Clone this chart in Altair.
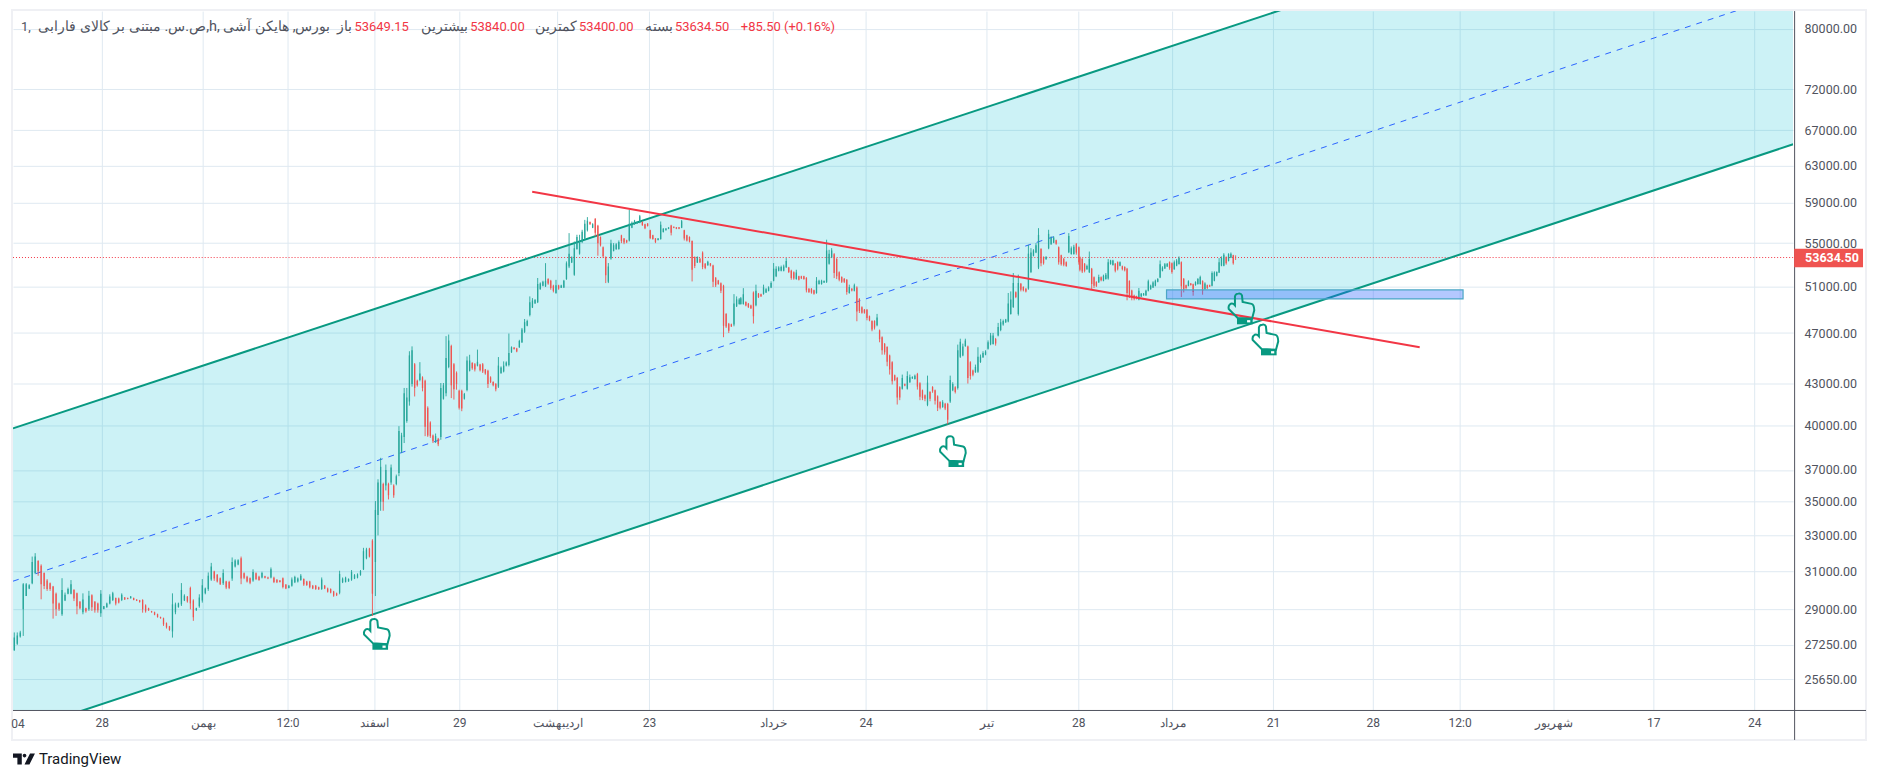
import json
import numpy as np
import pandas as pd
import altair as alt

PRICE_UNIT = 10  # candle lists are written in tens of rials

a_high = [2785,2785,2793,3036,3036,3030,3180,3199,3160,3137,
3093,3057,3039,3021,2986,2934,3062,2986,3012,3052,
3004,2986,2942,2982,2908,2995,2977,2942,2934,2999,
2917,2934,2977,2990,2960,2960,2982,2963,2960,2968,
2960,2951,2948,2951,2925,2908,2892,2888,2878,2863,
2858,2834,2817,2982,2934,2934,3036,2977,2968,3017,
2951,2908,2977,3057,3012,3093,3145,3102,3084,3066,
3110,3048,3048,3175,3165,3165,3180,3093,3075,3066,
3110,3093,3075,3097,3075,3070,3120,3070,3057,3052,
3066,3030,3026,3066,3075,3066,3084,3061,3048,3048,
3026,3026,3017,3066,3026,3012,3008,2995,2986,3102,
3066,3070,3061,3106,3084,3088,3106,3229,3229,3229,
3278,3504]
a_low = [2697,2725,2760,2768,2968,3004,3030,3084,3075,2951,
3004,2995,2995,2853,2867,2892,2867,2942,2977,2977,
2942,2875,2900,2875,2883,2892,2892,2883,2883,2862,
2900,2908,2925,2942,2920,2930,2942,2948,2951,2955,
2946,2942,2934,2883,2883,2892,2883,2870,2858,2853,
2817,2804,2793,2760,2875,2908,2917,2942,2934,2900,
2842,2892,2908,2934,2977,2995,3048,3048,3039,3026,
3026,3004,3004,3048,3120,3132,3030,3057,3039,3030,
3043,3052,3048,3061,3061,3057,3061,3036,3036,3039,
3008,3004,3008,3017,3036,3039,3048,3021,3021,3008,
3004,3000,3000,3000,3004,2986,2982,2964,2968,2977,
3036,3039,3043,3048,3057,3061,3075,3106,3165,3175,
2867,2968]
a_open = [2700,2730,2765,2900,2968,3008,3035,3090,3155,3130,
3090,3050,3035,3018,2980,2930,2875,2945,2980,2980,
3000,2982,2938,2885,2905,2900,2972,2938,2930,2880,
2902,2910,2930,2948,2958,2955,2948,2960,2958,2957,
2958,2950,2946,2948,2920,2905,2890,2885,2875,2861,
2855,2830,2815,2790,2885,2912,2925,2945,2965,3010,
2945,2895,2915,2945,2982,3005,3055,3098,3080,3062,
3035,3045,3042,3060,3125,3136,3170,3088,3070,3062,
3050,3088,3070,3066,3072,3066,3066,3065,3054,3050,
3062,3028,3010,3022,3040,3045,3052,3058,3045,3044,
3022,3022,3014,3005,3022,3008,3005,2992,2982,2985,
3040,3042,3045,3054,3060,3065,3080,3110,3170,3225,
3270,3150]
a_close = [2760,2770,2785,3030,3030,3025,3150,3180,3100,3030,
3020,3005,3005,2930,2900,2900,3000,2975,3005,3030,
2955,2915,2905,2950,2890,2970,2910,2895,2895,2980,
2915,2930,2965,2982,2930,2935,2975,2950,2953,2965,
2948,2944,2937,2900,2890,2895,2885,2873,2861,2855,
2825,2810,2797,2925,2925,2930,3000,2970,2940,2930,
2860,2905,2960,3025,3008,3075,3125,3060,3045,3030,
3090,3012,3010,3150,3158,3160,3060,3065,3045,3038,
3095,3058,3052,3090,3065,3060,3110,3042,3040,3042,
3015,3008,3022,3055,3068,3060,3075,3028,3026,3014,
3008,3005,3003,3055,3008,2990,2986,2970,2972,3085,
3060,3065,3058,3095,3078,3082,3100,3210,3220,3180,
2980,3450]

b_high = [3640,3779,3618,3735,3618,3735,3608,3670,3994,3948,
4270,4270,4553,4592,4460,4332,4467,4358,4332,4135,
4028,3936,3943,3913,4307,4307,4675,4688,4605,4460,
4395,4257,4257,4233,4512,4525,4467,4460,4566,4454,
4460,4414,4408,4358,4320,4307,4507,4434,4473,4473,
4696,4592,4585,4580,4645,4742,4817,4811,5011,4996,
4988,5175,5135,5150,5311,5173,5158,5114,5158,5114,
5114,5158,5327,5597,5374,5516,5581,5581,5630,5728,
5756,5712,5695,5745,5679,5565,5468,5374,5312,5533,
5500,5500,5526,5581,5549,5533,5830,5712,5728,5712,
5778,5712,5689,5695,5630,5581,5549,5549,5712,5646,
5646,5656,5679,5662,5656,5656,5728,5630,5581,5565,
5526,5374,5374,5358,5421,5312,5333,5312,5296,5183,
5158,5135,5114,4867,4784,4778,5031,5011,4996]
b_low = [3300,3445,3445,3570,3514,3605,3524,3602,3660,3810,
3878,4018,4140,4280,4207,4280,4320,4245,3925,3920,
3913,3878,3878,3857,3900,4184,4208,4420,4195,4184,
4257,4112,4100,4184,4245,4395,4408,4395,4434,4395,
4383,4370,4270,4307,4282,4245,4270,4378,4388,4434,
4434,4540,4566,4545,4580,4619,4701,4756,4839,4910,
4947,4953,5070,5100,5094,5114,5070,5046,5034,5070,
5085,5085,5158,5265,5312,5195,5437,5390,5500,5533,
5613,5679,5646,5565,5380,5468,5358,5129,5129,5343,
5421,5437,5437,5500,5490,5500,5516,5646,5679,5689,
5695,5669,5636,5662,5539,5533,5500,5526,5533,5603,
5623,5636,5575,5646,5636,5636,5646,5526,5516,5507,
5144,5265,5312,5312,5255,5255,5287,5281,5094,5094,
5114,5040,4666,4742,4701,4750,4756,4919,4939]
b_open = [3420,3500,3610,3600,3610,3620,3600,3610,3680,3820,
3920,4030,4170,4300,4450,4325,4330,4350,4325,4125,
4020,3930,3885,3908,3920,4190,4230,4430,4595,4450,
4385,4250,4250,4190,4255,4400,4460,4450,4440,4448,
4450,4410,4400,4350,4315,4300,4280,4382,4395,4440,
4445,4545,4582,4575,4585,4625,4710,4760,4850,4915,
4950,4960,5075,5105,5100,5165,5150,5105,5040,5108,
5088,5090,5165,5280,5318,5205,5445,5400,5510,5545,
5625,5708,5650,5740,5670,5558,5460,5365,5140,5355,
5425,5442,5445,5575,5545,5528,5525,5650,5685,5692,
5700,5708,5685,5692,5625,5576,5545,5530,5540,5608,
5626,5640,5672,5660,5654,5654,5650,5625,5576,5560,
5520,5368,5318,5352,5410,5306,5292,5308,5290,5178,
5152,5128,5105,4860,4778,4772,4770,4925,4945]
b_close = [3620,3720,3500,3700,3540,3715,3540,3660,3960,3930,
4230,4200,4520,4560,4270,4290,4380,4270,3990,3930,
3925,3890,3925,3870,4270,4290,4500,4640,4290,4260,
4300,4125,4120,4225,4480,4480,4420,4410,4470,4405,
4395,4380,4300,4315,4290,4260,4440,4425,4440,4465,
4540,4585,4570,4550,4635,4730,4790,4800,4960,4975,
4980,5120,5125,5140,5150,5125,5085,5060,5110,5080,
5108,5150,5310,5400,5365,5450,5560,5520,5610,5690,
5720,5685,5685,5600,5500,5480,5375,5200,5280,5500,
5480,5490,5510,5520,5505,5508,5690,5700,5720,5708,
5765,5675,5645,5668,5550,5540,5510,5545,5680,5640,
5642,5652,5600,5650,5640,5640,5715,5545,5525,5515,
5250,5285,5365,5320,5275,5265,5325,5290,5140,5110,
5120,5060,4760,4755,4720,4755,4950,4985,4985]

c_high = [5006,5084,4968,4954,4939,5055,5115,5041,5035,5115,
5084,5100,5145,5312,5282,5282,5288,5297,5358,5276,
5250,5235,5250,5195,5195,5195,5183,5084,5084,5070,
5183,5159,5159,5153,5533,5436,5452,5405,5358,5235,
5190,5174,5165,5115,5084,5124,5100,4996,4925,4902,
4902,4846,4806,4806,4860,4729,4673,4619,4593,4526,
4474,4371,4353,4283,4371,4303,4396,4371,4358,4371,
4384,4313,4258,4222,4363,4246,4283,4258,4215,4172,
4180,4160,4160,4363,4313,4283,4606,4654,4614,4654,
4598,4474,4409,4448,4585,4527,4553,4561,4640,4701,
4701,4660,4784,4818,4812,4818,5041,5055,5220,5055,
5205,5130,5100,5084,5484,5452,5442,5500,5646,5452,
5374,5374,5630,5566,5566,5533,5468,5390,5358,5327,
5597,5468,5484,5500,5468]
c_low = [4939,4939,4925,4911,4902,4779,4925,4997,5006,5026,
5041,5055,5084,5145,5183,5235,5235,5235,5267,5220,
5159,5159,5159,5153,5165,5159,5046,5041,5035,5026,
5035,5115,5115,5130,5130,5297,5358,5174,5165,5145,
5130,5130,5026,5035,5055,5055,4798,4868,4862,4862,
4806,4798,4715,4729,4756,4625,4526,4526,4435,4371,
4296,4321,4148,4180,4258,4283,4258,4308,4338,4333,
4258,4180,4180,4172,4136,4172,4234,4148,4101,4113,
4124,4108,4006,4160,4246,4229,4258,4500,4513,4588,
4303,4333,4358,4384,4384,4461,4500,4521,4566,4601,
4606,4598,4673,4715,4761,4784,4789,4854,4911,4996,
4846,5055,5055,5046,5070,5220,5374,5405,5256,5282,
5297,5343,5442,5484,5500,5484,5297,5288,5282,5277,
5405,5390,5390,5390,5297]
c_open = [4945,4945,4962,4948,4933,5045,4935,5035,5030,5032,
5045,5060,5090,5150,5190,5240,5240,5240,5272,5270,
5240,5228,5165,5190,5190,5190,5175,5078,5078,5065,
5040,5120,5120,5134,5140,5305,5365,5395,5350,5228,
5184,5168,5158,5040,5078,5060,5090,4988,4918,4896,
4896,4840,4800,4800,4765,4722,4665,4612,4586,4520,
4466,4365,4345,4276,4265,4298,4265,4312,4342,4338,
4376,4306,4252,4216,4145,4240,4278,4252,4208,4166,
4130,4154,4152,4170,4252,4276,4270,4510,4520,4595,
4590,4466,4403,4390,4392,4468,4505,4526,4572,4608,
4612,4652,4680,4725,4770,4790,4796,4860,4920,5048,
4860,5124,5094,5078,5080,5230,5380,5410,5270,5445,
5368,5348,5450,5490,5505,5528,5460,5384,5352,5320,
5412,5396,5396,5494,5460]
c_close = [4995,5030,4932,4918,4908,4840,5060,5005,5012,5090,
5075,5090,5130,5260,5260,5270,5275,5280,5330,5230,
5175,5170,5225,5160,5172,5165,5065,5050,5045,5035,
5150,5150,5150,5148,5430,5400,5430,5220,5190,5160,
5140,5140,5050,5095,5062,5110,4880,4885,4870,4870,
4825,4805,4730,4745,4830,4650,4560,4545,4470,4410,
4320,4330,4200,4200,4345,4288,4360,4350,4352,4362,
4280,4205,4195,4190,4310,4190,4245,4175,4125,4125,
4165,4120,4040,4330,4300,4240,4560,4630,4590,4640,
4345,4360,4370,4430,4510,4510,4540,4550,4625,4680,
4680,4615,4750,4790,4800,4812,4950,4985,5130,5005,
5130,5070,5065,5055,5400,5410,5430,5480,5580,5310,
5310,5370,5590,5550,5555,5495,5320,5300,5295,5285,
5570,5450,5465,5410,5320]

d_high = [5374,5358,5312,5297,5420,5267,5189,5145,5205,5189,
5205,5220,5349,5342,5342,5312,5327,5327,5288,5282,
5267,5154,5070,5026,5017,5085,5041,5041,5070,5160,
5115,5145,5160,5174,5336,5282,5312,5312,5327,5317,
5336,5349,5374,5327,5174,5115,5154,5130,5124,5145,
5174,5196,5154,5136,5115,5115,5235,5235,5235,5358,
5374,5404,5374,5404,5411,5389,5384]
d_low = [5235,5220,5226,5250,5220,5070,5085,5094,5130,5145,
5145,5160,5160,5297,5288,5226,5244,5282,5244,5235,
4977,4997,4977,4977,4985,4977,5006,5017,5017,5055,
5070,5085,5100,5136,5174,5235,5258,5276,5250,5214,
5250,5282,5297,5006,5046,5070,5100,5106,5017,5106,
5115,5115,5026,5070,5076,5094,5100,5145,5189,5220,
5282,5282,5297,5327,5358,5297,5340]
d_open = [5366,5350,5305,5255,5228,5260,5182,5140,5136,5182,
5150,5165,5170,5302,5294,5305,5320,5288,5282,5276,
5260,5148,5064,5020,5012,4985,5010,5020,5020,5060,
5075,5090,5105,5140,5180,5240,5262,5280,5320,5310,
5255,5288,5302,5320,5168,5110,5104,5126,5118,5110,
5120,5120,5148,5075,5110,5110,5105,5150,5195,5225,
5288,5288,5368,5332,5362,5384,5364.915]
d_close = [5250,5235,5240,5285,5350,5120,5105,5105,5185,5155,
5195,5205,5320,5335,5335,5240,5255,5320,5255,5245,
5040,5020,4995,4990,4995,5060,5035,5036,5060,5145,
5105,5135,5150,5165,5300,5270,5300,5305,5265,5230,
5320,5335,5360,5100,5070,5085,5145,5112,5050,5138,
5165,5185,5060,5125,5085,5098,5220,5225,5230,5320,
5360,5390,5310,5395,5400,5310,5363.45]

# first and last bar of each stretch of candles, on the bar-index scale
stretch_bars = [(0.65, 181.5), (182.8, 363.7), (364.5, 533.8), (534.3, 612.3)]
stretches = [(a_high, a_low, a_open, a_close), (b_high, b_low, b_open, b_close),
             (c_high, c_low, c_open, c_close), (d_high, d_low, d_open, d_close)]

y_ticks = [80000, 72000, 67000, 63000, 59000, 55000, 51000, 47000, 43000, 40000,
           37000, 35000, 33000, 31000, 29000, 27250, 25650]
x_tick_bars = [44.5, 95, 137.5, 181, 223.5, 272.5, 318.5, 380.5, 427, 487.5, 533.5,
               580.5, 631, 681, 724.5, 771.5, 821.5, 872]
x_tick_labels = ["28", "بهمن", "12:0", "اسفند", "29", "اردیبهشت", "23", "خرداد", "24", "تیر",
                 "28", "مرداد", "21", "28", "12:0", "شهریور", "17", "24"]

channel_bars = [0, 891.5]
channel_upper = [39790, 111080]
channel_lower = [23340, 65380]
channel_mid = [30460, 85320]
trend_bars = [260, 704.5]
trend_prices = [60160, 45850]
box_bars = [577.7, 726.2]
box_prices = [50680, 49890]
hand_bars = [182, 470.5, 615, 627]
hand_prices = [27770, 38220, 49050, 46460]
last_price = 53634.5
last_box = [54460, 52720]

GREEN = "#089981"
CANDLE_UP = "#26a69a"
CANDLE_DOWN = "#ef5350"
RED = "#f23645"
TEXT = "#50535e"
GRID = "#dfe9f1"
FRAME = "#eff0f4"
FONT = "Roboto"

rows = []
for (b0, b1), (hi, lo, op, cl) in zip(stretch_bars, stretches):
    for bar, h, l, o, c in zip(np.linspace(b0, b1, len(hi)), hi, lo, op, cl):
        rows.append(dict(bar=float(bar), high=h * PRICE_UNIT, low=l * PRICE_UNIT,
                         open=o * PRICE_UNIT, close=c * PRICE_UNIT,
                         dir="up" if c >= o else "down"))
candles = pd.DataFrame(rows)

label_map = json.dumps({str(b): t for b, t in zip(x_tick_bars, x_tick_labels)}, ensure_ascii=False)
x_scale = alt.Scale(domain=[0, 891.5], nice=False, zero=False)
y_scale = alt.Scale(type="log", domain=[24320, 82510], nice=False)
x_axis = alt.Axis(
    orient="bottom", values=x_tick_bars, labelExpr=label_map + "[datum.value]",
    grid=True, gridColor=GRID, gridWidth=1, domain=False, ticks=False, title=None,
    labelFont=FONT, labelFontSize=12, labelColor=TEXT, labelPadding=8,
    labelOverlap=False, labelFlush=False)
y_axis = alt.Axis(
    orient="right", values=y_ticks, format=".2f", grid=True, gridColor=GRID, gridWidth=1,
    domain=False, ticks=False, title=None, labelFont=FONT, labelFontSize=12.5,
    labelColor=TEXT, labelPadding=11, labelOverlap=False, labelFlush=False)


def px(field="bar"):
    return alt.X(f"{field}:Q", scale=x_scale, axis=x_axis)


def py(field="price"):
    return alt.Y(f"{field}:Q", scale=y_scale, axis=y_axis)


dir_color = alt.Color("dir:N", legend=None,
                      scale=alt.Scale(domain=["up", "down"], range=[CANDLE_UP, CANDLE_DOWN]))

channel = pd.DataFrame({"bar": channel_bars, "upper": channel_upper, "lower": channel_lower,
                        "mid": channel_mid})

fill = alt.Chart(channel).mark_area(color="#00bcd4", opacity=0.2, clip=True).encode(
    x=px(), y=py("upper"), y2="lower:Q")


def straight(frame, field, **mark):
    return alt.Chart(frame).mark_line(clip=True, **mark).encode(x=px(), y=py(field))


upper_line = straight(channel, "upper", color=GREEN, strokeWidth=2)
lower_line = straight(channel, "lower", color=GREEN, strokeWidth=2)
mid_line = straight(channel, "mid", color="#2962ff", strokeWidth=1, strokeDash=[6, 6])

price_line = alt.Chart(pd.DataFrame({"price": [last_price]})).mark_rule(
    color=RED, strokeWidth=1, strokeDash=[1, 2]).encode(
    y=py(), x=alt.value(0), x2=alt.value(1783))

wicks = alt.Chart(candles).mark_rule(strokeWidth=0.9).encode(
    x=px(), y=py("high"), y2="low:Q", color=dir_color)
bodies = alt.Chart(candles).mark_rule(strokeWidth=1.3).encode(
    x=px(), y=py("open"), y2="close:Q", color=dir_color)

trend = alt.Chart(pd.DataFrame({"bar": trend_bars, "price": trend_prices})).mark_line(
    color=RED, strokeWidth=2, clip=True).encode(x=px(), y=py())

box = alt.Chart(pd.DataFrame({"b0": [box_bars[0]], "b1": [box_bars[1]],
                              "p0": [box_prices[0]], "p1": [box_prices[1]]})).mark_rect(
    fill="#2962ff", fillOpacity=0.35, stroke="#4ba6c6", strokeWidth=1.2).encode(
    x=px("b0"), x2="b1:Q", y=py("p0"), y2="p1:Q")

HAND = ("M-.17,-.94 Q0,-.98 .06,-.83 L.1,-.42 L.66,-.3 Q.82,-.25 .83,.1 L.69,.63 "
        "L-.21,.58 L-.77,.02 Q-.82,-.2 -.63,-.31 Q-.5,-.35 -.38,-.21 L-.38,-.77 Q-.35,-.92 -.17,-.94 Z")
CUFF = "M-.25,.58 L.73,.58 L.73,.98 L-.25,.98 Z"
DOT = "M.38,.72 L.58,.72 L.58,.86 L.38,.86 Z"
hands = pd.DataFrame({"bar": hand_bars, "price": hand_prices})
hand_size = 32 * 32
hand_base = alt.Chart(hands)
hand_line = hand_base.mark_point(shape=HAND, size=hand_size, filled=False, stroke=GREEN,
                                 strokeWidth=2, opacity=1).encode(x=px(), y=py())
hand_cuff = hand_base.mark_point(shape=CUFF, size=hand_size, filled=True, fill=GREEN,
                                 strokeWidth=0, opacity=1).encode(x=px(), y=py())
hand_dot = hand_base.mark_point(shape=DOT, size=hand_size, filled=True, fill="white",
                                strokeWidth=0, opacity=1).encode(x=px(), y=py())

# chrome: outer frame, time-axis and price-axis lines
frame = alt.Chart(pd.DataFrame({"a": [0]})).mark_rect(
    fillOpacity=0, stroke=FRAME, strokeWidth=2).encode(
    x=alt.value(-1), x2=alt.value(1856), y=alt.value(-1), y2=alt.value(730))
time_line = alt.Chart(pd.DataFrame({"a": [0]})).mark_rule(color=TEXT, strokeWidth=1).encode(
    x=alt.value(0), x2=alt.value(1856), y=alt.value(700.5))
price_axis_line = alt.Chart(pd.DataFrame({"a": [0]})).mark_rule(color=TEXT, strokeWidth=1).encode(
    x=alt.value(1784.5), y=alt.value(0), y2=alt.value(730))

price_box = alt.Chart(pd.DataFrame({"p0": [last_box[0]], "p1": [last_box[1]]})).mark_rect(
    color="#ef5350").encode(
    x=alt.value(1784), x2=alt.value(1853), y=py("p0"), y2="p1:Q")
price_text = alt.Chart(pd.DataFrame({"price": [last_price], "t": ["53634.50"]})).mark_text(
    color="white", font=FONT, fontSize=12.5, fontWeight="bold", align="left", baseline="middle").encode(
    x=alt.value(1795), y=py(), text="t:N")


def label(text, x_px, y_px, color=TEXT, size=12.5, font=FONT, align="left", weight="normal"):
    return alt.Chart(pd.DataFrame({"t": [text]})).mark_text(
        color=color, font=font, fontSize=size, align=align, baseline="middle",
        fontWeight=weight).encode(x=alt.value(x_px), y=alt.value(y_px), text="t:N")


hy = 15.5
AR = 14.5
NUM = 13
header = [
    label("1,", 8, hy, size=NUM),
    label("ص.س. مبتنی بر کالای فارابی,h, بورس, هایکن آشی", 318, hy, size=AR, align="right"),
    label("باز", 340, hy, size=AR, align="right"),
    label("53649.15", 342, hy, color=RED, size=NUM),
    label("بیشترین", 456, hy, size=AR, align="right"),
    label("53840.00", 458, hy, color=RED, size=NUM),
    label("کمترین", 565, hy, size=AR, align="right"),
    label("53400.00", 567, hy, color=RED, size=NUM),
    label("بسته", 661, hy, size=AR, align="right"),
    label("53634.50", 663, hy, color=RED, size=NUM),
    label("+85.50 (+0.16%)", 729, hy, color=RED, size=NUM),
]
x_first = label("04", 5, 714, size=12, align="center")

logo = alt.Chart(pd.DataFrame({"a": [0]})).mark_point(
    shape="M-1,-.5 L-.2,-.5 L-.2,.5 L-.6,.5 L-.6,-.1 L-1,-.1 Z "
          "M.22,-.3 A.17,.17 0 1 1 -.12,-.3 A.17,.17 0 1 1 .22,-.3 Z "
          "M.55,-.5 L1,-.5 L.5,.5 L.05,.5 Z",
    size=22 * 22, filled=True, fill="#131722", strokeWidth=0, opacity=1).encode(
    x=alt.value(11), y=alt.value(749))
logo_text = label("TradingView", 26, 749.5, color="#131722", size=15, weight=400)

chart = alt.layer(
    fill, mid_line, price_line, upper_line, lower_line, wicks, bodies, trend, box,
    hand_line, hand_cuff, hand_dot, frame, time_line, price_axis_line, price_box, price_text,
    *header, x_first, logo, logo_text,
).properties(
    width=1783, height=700,
    padding={"left": 5, "top": 2.5, "right": 78, "bottom": 60},
    autosize=alt.AutoSizeParams(type="none"),
    background="white",
).configure_view(strokeWidth=0)

chart.save("out.html", embed_options={"renderer": "svg", "actions": False})
